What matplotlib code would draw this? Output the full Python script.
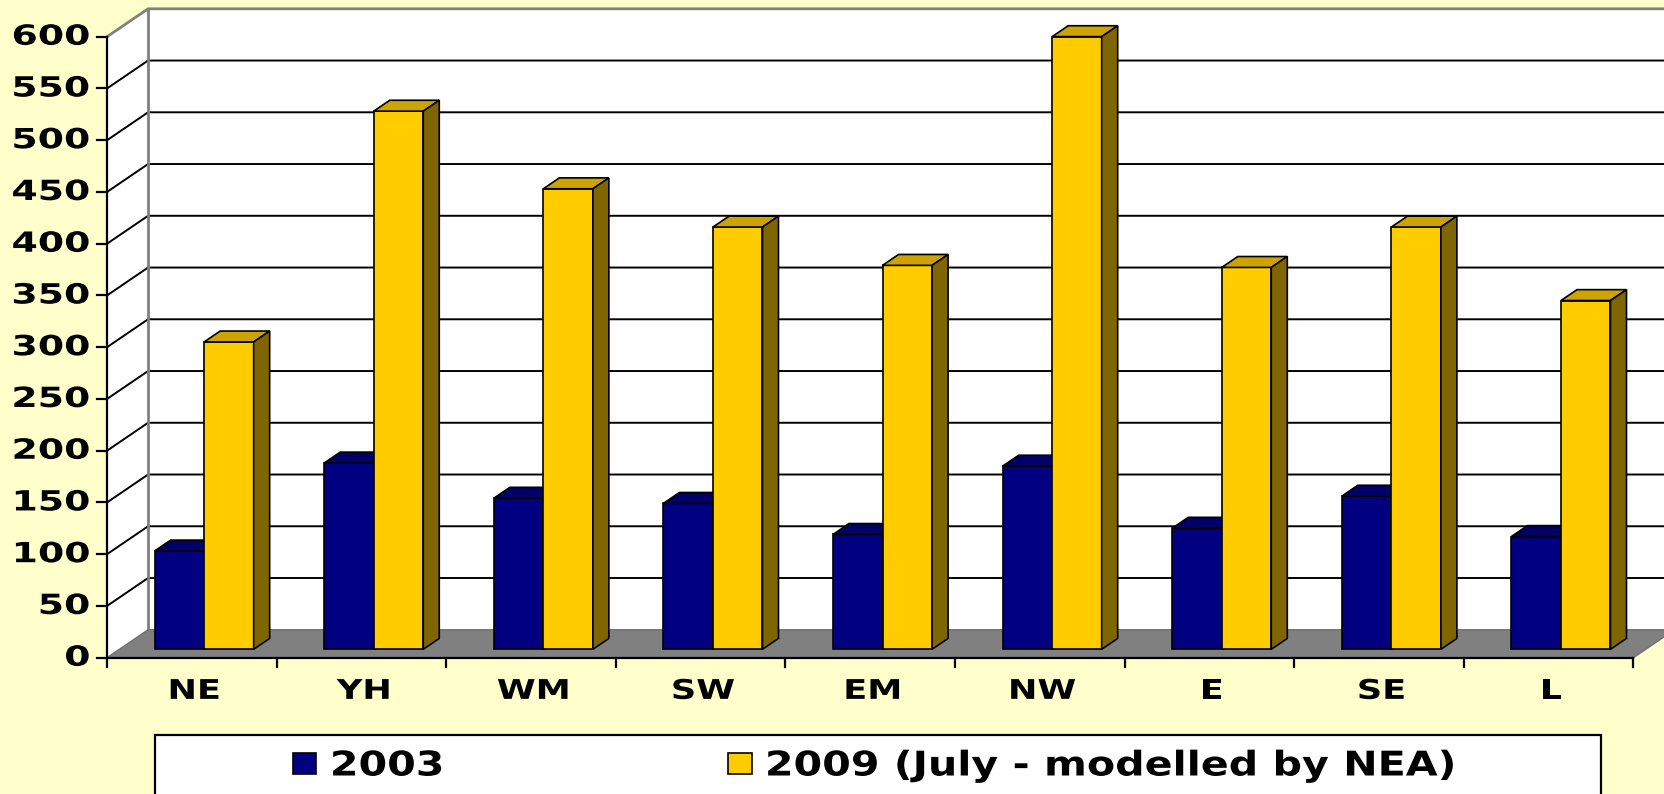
import matplotlib
matplotlib.use('Agg')
import matplotlib.pyplot as plt
import matplotlib.colors as mcolors
from matplotlib.patches import Polygon, Rectangle
from matplotlib.patheffects import AbstractPathEffect
from matplotlib.transforms import Affine2D

regions = ['NE', 'YH', 'WM', 'SW', 'EM', 'NW', 'E', 'SE', 'L']
v2003 = [95, 180, 146, 141, 111, 177, 117, 148, 109]
v2009 = [297, 520, 445, 408, 371, 592, 369, 408, 337]
labels = ['2003', '2009 (July - modelled by NEA)']
yticks = list(range(0, 601, 50))

colors = ['#000080', '#FFCC00']


def shade(c, k):
    r, g, b = mcolors.to_rgb(c)
    return (r * k, g * k, b * k)


class HStretch(AbstractPathEffect):
    # the original text is wide, as if the chart had been stretched sideways
    def __init__(self, sx, anchor=0.5):
        super().__init__()
        self.sx = sx
        self.anchor = anchor

    def draw_path(self, renderer, gc, tpath, affine, rgbFace=None):
        ext = tpath.get_extents(affine)
        x0 = ext.x0 + self.anchor * ext.width
        t = affine + Affine2D().translate(-x0, 0).scale(self.sx, 1).translate(x0, 0)
        renderer.draw_path(gc, tpath, t, rgbFace)


# pseudo 3d geometry, in category / value units
DX, DY = 0.242, 27.0      # depth of the floor
F0, F1 = 0.30, 0.69       # front and back of the bars, as part of the depth
W = 0.292                 # bar width
OFF = 0.208               # gap before the first bar
n = len(regions)
ymax = yticks[-1]

fig = plt.figure(figsize=(16.65, 7.94), dpi=100, facecolor='#FFFFCC')
ax = fig.add_axes([0, 0, 1, 1])
ax.set_xlim(-0.631, 9.186)
ax.set_ylim(-131.7, 635.5)
ax.axis('off')

# walls
ax.add_patch(Polygon([(DX, DY), (n + DX, DY), (n + DX, ymax + DY), (DX, ymax + DY)],
                     fc='white', ec='none', zorder=1))
ax.add_patch(Polygon([(0, 0), (DX, DY), (DX, ymax + DY), (0, ymax)],
                     fc='white', ec='none', zorder=1))
for t in yticks[1:-1]:
    ax.plot([0, DX, n + DX], [t, t + DY, t + DY], color='black', lw=1.4, zorder=2)
ax.plot([0, DX, n + DX], [ymax, ymax + DY, ymax + DY], color='#808080', lw=2, zorder=2)
ax.plot([DX, DX], [DY, ymax + DY], color='#808080', lw=2, zorder=2)

# floor
ax.add_patch(Polygon([(0, 0), (n, 0), (n + DX, DY), (DX, DY)],
                     fc='#808080', ec='#707070', lw=1, zorder=3))

# bars
ddx = (F1 - F0) * DX
ddy = (F1 - F0) * DY
handles = []
for s, vals in enumerate([v2003, v2009]):
    c = colors[s]
    xs = [i + OFF + s * W + F0 * DX for i in range(n)]
    bars = ax.bar(xs, vals, width=W, bottom=F0 * DY, align='edge', color=c,
                  edgecolor='black', linewidth=1.2, zorder=4 + s, label=labels[s])
    handles.append(bars)
    for x, v in zip(xs, vals):
        top = F0 * DY + v
        ax.add_patch(Polygon([(x, top), (x + W, top), (x + W + ddx, top + ddy), (x + ddx, top + ddy)],
                             fc=shade(c, 0.8), ec='black', lw=1.2, zorder=4 + s))
        ax.add_patch(Polygon([(x + W, F0 * DY), (x + W + ddx, F0 * DY + ddy),
                              (x + W + ddx, top + ddy), (x + W, top)],
                             fc=shade(c, 0.5), ec='black', lw=1.2, zorder=4 + s))

# axes, ticks and labels
ax.plot([0, 0], [0, ymax], color='black', lw=1.6, zorder=6)
ax.plot([0, n], [0, 0], color='black', lw=1.6, zorder=6)
for t in yticks:
    ax.plot([-0.061, 0], [t, t], color='black', lw=1.6, zorder=6)
    ax.text(-0.1, t, str(t), ha='right', va='center', fontsize=20, fontweight='bold',
            path_effects=[HStretch(1.36, 1.0)])
for i in range(n + 1):
    ax.plot([i, i], [0, -9.3], color='black', lw=1.6, zorder=6)
for i, r in enumerate(regions):
    ax.text(i + 0.515, -33, r, ha='center', va='center', fontsize=19.5, fontweight='bold',
            path_effects=[HStretch(1.3, 0.5)])

# legend
fig.patches.append(Rectangle((155 / 1665, -0.02), (1601 - 155) / 1665, 59 / 794 + 0.02,
                             transform=fig.transFigure, fc='white', ec='black', lw=1.6, zorder=0))
leg = fig.legend(handles, labels, loc='center left', bbox_to_anchor=(293 / 1665, 1 - 766 / 794),
                 ncol=2, frameon=False, prop={'weight': 'bold', 'size': 24.5},
                 borderpad=0, borderaxespad=0, handlelength=0.69, handleheight=0.59,
                 handletextpad=0.41, columnspacing=8.9)
for txt in leg.get_texts():
    txt.set_path_effects([HStretch(1.21, 0.0)])

fig.savefig('out.png', dpi=100, facecolor=fig.get_facecolor())
